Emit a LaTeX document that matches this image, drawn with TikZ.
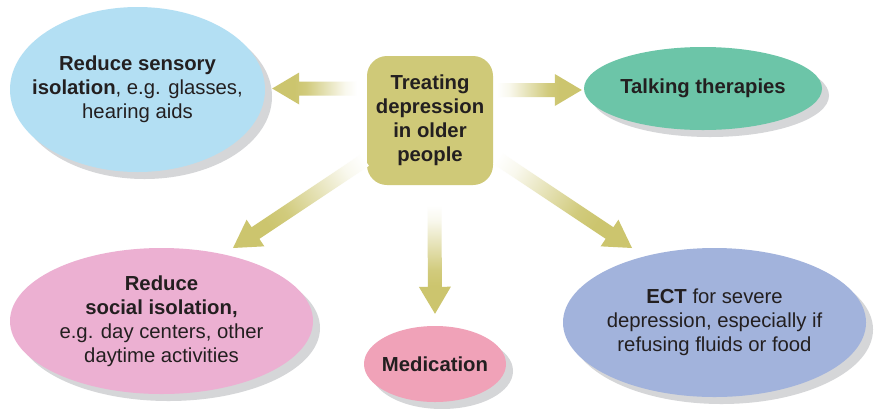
\documentclass[tikz,border=0pt]{standalone}
\usepackage{fontspec}
\setmainfont{Liberation Sans}
\usetikzlibrary{shapes.geometric,shadows,calc}

\definecolor{ink}{HTML}{231F20}
\definecolor{hubolive}{RGB}{207,201,120}
\definecolor{arrowolive}{RGB}{204,197,110}
\colorlet{oliveA}{arrowolive!12!white}
\colorlet{oliveB}{arrowolive!90!white}
\definecolor{skyblue}{RGB}{179,223,243}
\definecolor{mint}{RGB}{108,197,168}
\definecolor{rosepink}{RGB}{236,176,210}
\definecolor{salmonpink}{RGB}{240,162,184}
\definecolor{lavender}{RGB}{162,179,220}
\definecolor{shadowgrey}{RGB}{213,214,216}

% fade from white at the tail to olive towards the head
\pgfdeclarehorizontalshading{arrowfade}{100bp}{color(0bp)=(white); color(25bp)=(white);
  color(32bp)=(oliveA); color(55bp)=(oliveB); color(62bp)=(arrowolive); color(100bp)=(arrowolive)}

% broad arrow with a shaded shaft, from #1 to #2
\newcommand\fadearrow[2]{%
  \path let \p1=(#1), \p2=(#2),
    \n1={atan2(\y2-\y1,\x2-\x1)}, \n2={veclen(\x2-\x1,\y2-\y1)} in
    \pgfextra{\xdef\farang{\n1}\xdef\farlen{\n2}};
  \begin{scope}[transform canvas={shift={(#1)},rotate=\farang}]
    \shade[arrowshade] (0,-7) -- ({\farlen-27},-7) -- ({\farlen-27},-16) -- (\farlen,0)
      -- ({\farlen-27},16) -- ({\farlen-27},7) -- (0,7) -- cycle;
  \end{scope}}

\begin{document}
\begin{tikzpicture}[x=1pt,y=-1pt,
  txt/.style={font=\fontsize{20.3}{24}\selectfont, text=ink, align=center},
  bubble/.style={txt, ellipse, inner sep=-20pt, draw=none,
    copy shadow={shadow xshift=7pt, shadow yshift=-7pt, fill=shadowgrey, draw=none}},
  hubbox/.style={txt, font=\fontsize{20.3}{24}\selectfont\bfseries, rounded corners=20pt,
    fill=hubolive, minimum width=126pt, minimum height=129pt, inner sep=0pt},
  arrowshade/.style={shading=arrowfade, draw=none}]

\useasboundingbox[fill=white] (0,0) rectangle (874,408);

% central topic
\node[hubbox] (hub) at (430,120.5) {Treating\\depression\\in older\\people};

% treatment options
\node[bubble, fill=skyblue, minimum width=255pt, minimum height=165pt] (sens) at (137.5,89.5)
  {\textbf{Reduce sensory}\\\textbf{isolation}, e.g. glasses,\\hearing aids};
\node[bubble, fill=mint, minimum width=238pt, minimum height=83pt] (talk) at (703,88.5)
  {\textbf{Talking therapies}};
\node[bubble, fill=rosepink, minimum width=303pt, minimum height=146pt] (social) at (161.5,321)
  {\textbf{Reduce}\\\textbf{social isolation,}\\e.g. day centers, other\\daytime activities};
\node[bubble, fill=salmonpink, minimum width=142pt, minimum height=76pt] (med) at (435,364)
  {\textbf{Medication}};
\node[bubble, fill=lavender, minimum width=303pt, minimum height=149pt] (ect) at (714.5,322.5)
  {\textbf{ECT} for severe\\depression, especially if\\refusing fluids or food};

% arrow ends
\coordinate (aL0) at ($(hub.center)+(-73,-32)$);
\coordinate (aL1) at ($(sens.east)+(7,-1)$);
\coordinate (aR0) at ($(hub.center)+(67,-30.5)$);
\coordinate (aR1) at ($(talk.west)+(-2,1.5)$);
\coordinate (aD0) at ($(hub.south)+(4.5,20)$);
\coordinate (aD1) at ($(med.north)+(0,-12)$);
\coordinate (aSW0) at ($(hub.center)+(-65,39.5)$);
\coordinate (aSW1) at ($(social.center)+(71.5,-73)$);
\coordinate (aSE0) at ($(hub.center)+(67,37.5)$);
\coordinate (aSE1) at ($(ect.center)+(-82.5,-74.5)$);

\fadearrow{aL0}{aL1}
\fadearrow{aR0}{aR1}
\fadearrow{aD0}{aD1}
\fadearrow{aSW0}{aSW1}
\fadearrow{aSE0}{aSE1}
\end{tikzpicture}
\end{document}
